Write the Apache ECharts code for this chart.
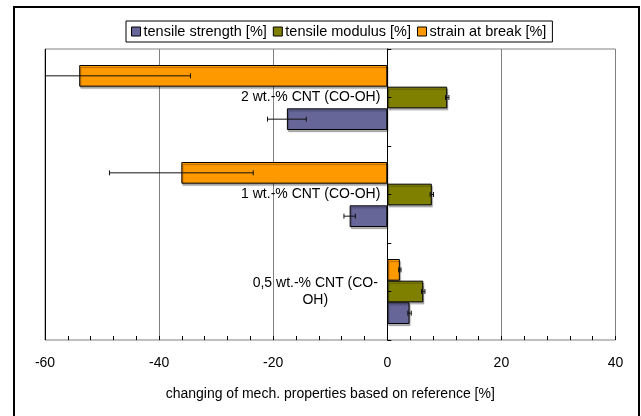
<!DOCTYPE html>
<html>
<head>
<meta charset="utf-8">
<script src="https://cdn.jsdelivr.net/npm/echarts@6/dist/echarts.min.js"></script>
<style>
  html, body { margin: 0; padding: 0; background: #fff; }
  #chart { width: 641px; height: 416px; }
</style>
</head>
<body>
<div id="chart"></div>
<script>
// Categories from bottom to top (category axis runs upward)
const categories = ['0,5 wt.-% CNT (CO-\nOH)', '1 wt.-% CNT (CO-OH)', '2 wt.-% CNT (CO-OH)'];

// Change of mechanical properties relative to the reference [%]
const tensileStrength    = [3.9, -6.6, -17.6];
const tensileStrengthErr = [0.3, 1.0, 3.4];
const tensileModulus     = [6.3, 7.8, 10.5];
const tensileModulusErr  = [0.3, 0.3, 0.3];
const strainAtBreak      = [2.2, -36.1, -54.0];
const strainAtBreakErr   = [0.2, 12.6, 19.5];

const xTicks = [-60, -40, -20, 0, 20, 40];

const FONT = 'Liberation Sans, Arial, sans-serif';
const CAT_GAP = 0.33;

// plot area placement
const GRID = { left: 45, right: 25.5, top: 49, bottom: 76 };
const CHART_W = 641;
const xMin = xTicks[0];
const xMax = xTicks[xTicks.length - 1];
// shift the category axis from the left edge of the plot to x = 0
const gridW = CHART_W - GRID.left - GRID.right;
const zeroOffset = -gridW * (0 - xMin) / (xMax - xMin);

// series listed top-to-bottom inside each category group
const groups = [
  { name: 'strain at break [%]',  color: '#FF9900', values: strainAtBreak,   errs: strainAtBreakErr },
  { name: 'tensile modulus [%]',  color: '#808000', values: tensileModulus,  errs: tensileModulusErr },
  { name: 'tensile strength [%]', color: '#666699', values: tensileStrength, errs: tensileStrengthErr }
];

function errorBarRenderer(slot) {
  return function (params, api) {
    const cat = api.value(0);
    const val = api.value(1);
    const err = api.value(2);
    const band = api.size([0, 1])[1];
    const barW = band * (1 - CAT_GAP) / 3;
    const center = api.coord([0, cat])[1];
    const y = center + (slot - 1) * barW;
    const x1 = api.coord([val - err, cat])[0];
    const x2 = api.coord([val + err, cat])[0];
    const cap = 2.5;
    const style = { stroke: '#111', lineWidth: 1 };
    return {
      type: 'group',
      children: [
        { type: 'line', shape: { x1: x1, y1: y, x2: x2, y2: y }, style: style },
        { type: 'line', shape: { x1: x1, y1: y - cap, x2: x1, y2: y + cap }, style: style },
        { type: 'line', shape: { x1: x2, y1: y - cap, x2: x2, y2: y + cap }, style: style }
      ]
    };
  };
}

const series = [];
groups.forEach(function (g) {
  series.push({
    name: g.name,
    type: 'bar',
    data: g.values,
    barGap: '0%',
    barCategoryGap: (CAT_GAP * 100) + '%',
    itemStyle: {
      color: g.color,
      borderColor: '#000',
      borderWidth: 1,
      shadowColor: 'rgba(0,0,0,0.3)',
      shadowOffsetX: 1,
      shadowOffsetY: 2,
      shadowBlur: 1
    },
    emphasis: { disabled: true },
    z: 2
  });
});
groups.forEach(function (g, slot) {
  series.push({
    name: g.name + ' error',
    type: 'custom',
    renderItem: errorBarRenderer(slot),
    data: g.values.map(function (v, i) { return [i, v, g.errs[i]]; }),
    encode: { y: 0, x: 1 },
    clip: true,
    silent: true,
    z: 3
  });
});

const chart = echarts.init(document.getElementById('chart'), null, { renderer: 'canvas' });
chart.setOption({
  animation: false,
  backgroundColor: '#fff',
  textStyle: { fontFamily: FONT, color: '#000' },
  graphic: [{
    type: 'rect',
    shape: { x: 14, y: 7, width: 625, height: 430 },
    style: { fill: 'none', stroke: '#000', lineWidth: 2 },
    silent: true,
    z: 100
  }],
  legend: {
    data: ['tensile strength [%]', 'tensile modulus [%]', 'strain at break [%]'],
    left: 126,
    top: 21,
    icon: 'rect',
    itemWidth: 9,
    itemHeight: 9,
    itemGap: 6,
    padding: [3, 6, 3, 5],
    borderColor: '#000',
    borderWidth: 1,
    textStyle: { fontFamily: FONT, fontSize: 14.5, color: '#000', padding: [0, 0, 0, -2] },
    itemStyle: { borderColor: '#000', borderWidth: 1, shadowBlur: 0, shadowOffsetX: 0, shadowOffsetY: 0 },
    selectedMode: false
  },
  grid: {
    left: GRID.left, right: GRID.right, top: GRID.top, bottom: GRID.bottom,
    containLabel: false,
    outerBoundsMode: 'none',
    show: true,
    borderColor: '#808080',
    borderWidth: 1
  },
  xAxis: {
    type: 'value',
    min: xMin,
    max: xMax,
    interval: 20,
    name: 'changing of mech. properties based on reference [%]',
    nameLocation: 'middle',
    nameGap: 47,
    nameTextStyle: { fontFamily: FONT, fontSize: 14, color: '#000' },
    axisLine: { onZero: false, lineStyle: { color: '#000', width: 1 } },
    axisTick: { show: true, inside: true, length: 4, lineStyle: { color: '#000' } },
    minorTick: { show: true, splitNumber: 5, length: 4, lineStyle: { color: '#000' } },
    axisLabel: { fontFamily: FONT, fontSize: 14, color: '#000', margin: 16 },
    splitLine: {
      show: true,
      showMinLine: true,
      showMaxLine: false,
      lineStyle: { color: ['#000', '#808080', '#808080', '#808080', '#808080', '#808080'], width: 1 }
    }
  },
  yAxis: [{
    type: 'category',
    data: categories,
    position: 'left',
    offset: zeroOffset,
    z: 4,
    axisLine: { onZero: false, lineStyle: { color: '#000', width: 1 } },
    axisTick: { show: true, inside: true, length: 4, alignWithLabel: false, lineStyle: { color: '#000' } },
    axisLabel: {
      margin: 7,
      fontFamily: FONT,
      fontSize: 14,
      color: '#000',
      formatter: function (v) {
        const lines = v.split('\n');
        if (lines.length === 1) return v;
        return lines.map(function (l) { return '{c|' + l + '}'; }).join('\n');
      },
      rich: {
        c: { fontFamily: FONT, fontSize: 14, color: '#000', width: 130, align: 'center', lineHeight: 17 }
      }
    },
    splitLine: { show: false }
  }, {
    type: 'category',
    data: categories,
    position: 'left',
    offset: zeroOffset,
    z: 4,
    axisLine: { show: false, onZero: false },
    axisTick: { show: true, inside: true, length: 4, alignWithLabel: true, lineStyle: { color: '#000' } },
    axisLabel: { show: false },
    splitLine: { show: false }
  }],
  series: series
});
</script>
</body>
</html>
